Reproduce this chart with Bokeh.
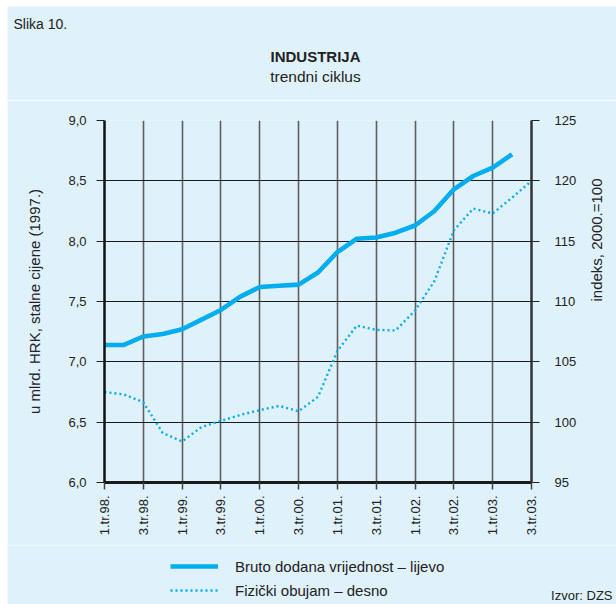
import math
from bokeh.plotting import figure
from bokeh.models import (Range1d, LinearAxis, FixedTicker, Legend, LegendItem, Label)
from bokeh.layouts import column
from bokeh.embed import file_html
from bokeh.resources import INLINE

# ---- data ----
tick_labels = ["1.tr.98.", "3.tr.98.", "1.tr.99.", "3.tr.99.", "1.tr.00.", "3.tr.00.",
               "1.tr.01.", "3.tr.01.", "1.tr.02.", "3.tr.02.", "1.tr.03.", "3.tr.03."]
bruto = [7.14, 7.14, 7.21, 7.23, 7.27, 7.35, 7.43, 7.54, 7.62, 7.63, 7.64, 7.74,
         7.91, 8.02, 8.03, 8.07, 8.13, 8.25, 8.43, 8.54, 8.61, 8.72]
fizicki = [102.5, 102.3, 101.65, 99.1, 98.4, 99.6, 100.1, 100.6, 101.0, 101.35, 100.9,
           102.1, 105.9, 108.0, 107.65, 107.6, 109.25, 111.7, 115.9, 117.7, 117.3,
           118.6, 120.0]
left_ticks = [6.0, 6.5, 7.0, 7.5, 8.0, 8.5, 9.0]
right_ticks = [95, 100, 105, 110, 115, 120, 125]
series_names = ["Bruto dodana vrijednost – lijevo", "Fizički obujam – desno"]

BG = "#dff1fb"
LINE = "#00adef"
FONT = "Liberation Sans"
TXT = "#222222"
W = 609
NAN = float("nan")

x_b = list(range(len(bruto)))
x_f = list(range(len(fizicki)))
x_ticks = [2 * i for i in range(len(tick_labels))]


def blank_fig(height):
    f = figure(width=W, height=height, output_backend="svg", toolbar_location=None,
               title=None, x_range=Range1d(0, 1), y_range=Range1d(0, 1),
               x_axis_type=None, y_axis_type=None,
               min_border_left=0, min_border_right=0, min_border_top=0,
               min_border_bottom=0)
    f.background_fill_color = BG
    f.border_fill_color = BG
    f.outline_line_color = None
    f.grid.visible = False
    return f


def lab(f, text, x, y, size, align="left", style="normal"):
    f.add_layout(Label(x=x, y=y, x_units="screen", y_units="screen", text=text,
                       text_font=FONT, text_font_size=size, text_align=align,
                       text_baseline="alphabetic", text_font_style=style,
                       text_color=TXT))


head = blank_fig(94)
foot = blank_fig(59)

# frame alignment between the stacked figures: switch it off if possible
ALIGN_OFF = hasattr(head, "frame_align")
if ALIGN_OFF:
    head.frame_align = False
    foot.frame_align = False
    DX = 7      # frame starts at the canvas' left edge (page x = 7)
else:
    DX = 104    # frame aligned with the chart frame (page x = 104)

# ---- header ----
lab(head, "Slika 10.", 13 - DX, 77, "14px")
lab(head, "INDUSTRIJA", 315 - DX, 44, "15px", align="center", style="bold")
lab(head, "trendni ciklus", 315 - DX, 24, "15.5px", align="center")

# ---- main chart ----
p = figure(width=W, height=445, output_backend="svg", toolbar_location=None,
           title=None, x_range=Range1d(0, 22), y_range=Range1d(6, 9),
           min_border_left=97, min_border_right=83, min_border_top=20,
           min_border_bottom=63)
if ALIGN_OFF:
    p.frame_align = False
p.extra_y_ranges = {"right": Range1d(95, 125)}
p.background_fill_color = BG
p.border_fill_color = BG
p.outline_line_color = None

p.xgrid.ticker = FixedTicker(ticks=x_ticks)
p.xgrid.grid_line_color = "#5e5e5e"
p.xgrid.grid_line_width = 1.6
p.ygrid.ticker = FixedTicker(ticks=left_ticks)
p.ygrid.grid_line_color = "#1a1a1a"
p.ygrid.grid_line_width = 1.2

xa = p.xaxis[0]
xa.ticker = FixedTicker(ticks=x_ticks)
xa.major_label_overrides = {t: l for t, l in zip(x_ticks, tick_labels)}
xa.major_label_orientation = math.pi / 2
xa.axis_line_width = 3
xa.axis_line_color = "#1a1a1a"
xa.major_tick_in = 0
xa.major_tick_out = 7
xa.major_tick_line_color = "#444444"
xa.major_tick_line_width = 1.5
xa.minor_tick_line_color = None
xa.major_label_standoff = 6
xa.major_label_text_font = FONT
xa.major_label_text_font_size = "13px"
xa.major_label_text_color = TXT

ya = p.yaxis[0]
ya.ticker = FixedTicker(ticks=left_ticks)
ya.major_label_overrides = {t: f"{t:.1f}".replace(".", ",") for t in left_ticks}
ya.axis_line_width = 2.5
ya.axis_line_color = "#111111"
ya.major_tick_in = 0
ya.major_tick_out = 8
ya.major_tick_line_color = "#222222"
ya.major_tick_line_width = 1.2
ya.minor_tick_line_color = None
ya.major_label_standoff = 10
ya.major_label_text_font = FONT
ya.major_label_text_font_size = "13px"
ya.major_label_text_color = TXT
ya.axis_label = "u mlrd. HRK, stalne cijene (1997.)"
ya.axis_label_standoff = 22
ya.axis_label_text_font = FONT
ya.axis_label_text_font_size = "15px"
ya.axis_label_text_font_style = "normal"
ya.axis_label_text_color = TXT

ra = LinearAxis(y_range_name="right", ticker=FixedTicker(ticks=right_ticks))
ra.axis_line_width = 2.5
ra.axis_line_color = "#333333"
ra.major_tick_in = 0
ra.major_tick_out = 8
ra.major_tick_line_color = "#222222"
ra.major_tick_line_width = 1.2
ra.minor_tick_line_color = None
ra.major_label_standoff = 15
ra.major_label_text_font = FONT
ra.major_label_text_font_size = "13px"
ra.major_label_text_color = TXT
ra.axis_label = "indeks, 2000.=100"
ra.axis_label_standoff = 17
ra.axis_label_text_font = FONT
ra.axis_label_text_font_size = "15px"
ra.axis_label_text_font_style = "normal"
ra.axis_label_text_color = TXT
if hasattr(ra, "axis_label_orientation"):
    ra.axis_label_orientation = math.pi / 2
p.add_layout(ra, "right")

p.line(x_f, fizicki, y_range_name="right", line_color=LINE, line_width=2.4,
       line_dash="2 3")
p.line(x_b, bruto, line_color=LINE, line_width=4.6, line_join="round")

# ---- footer: legend + source ----
lr_b = foot.line([NAN], [NAN], line_color=LINE, line_width=4.6)
lr_f = foot.line([NAN], [NAN], line_color=LINE, line_width=2.4, line_dash="2 3")
legend = Legend(items=[LegendItem(label=series_names[0], renderers=[lr_b]),
                       LegendItem(label=series_names[1], renderers=[lr_f])],
                location=(170 - DX, 2), orientation="vertical",
                glyph_width=48, glyph_height=24, label_height=24, label_standoff=17,
                spacing=0, padding=0, margin=0,
                label_text_font=FONT, label_text_font_size="15px",
                label_text_color=TXT,
                border_line_color=None, background_fill_alpha=0)
foot.add_layout(legend, "center")
lab(foot, "Izvor: DZS", 612 - DX, 9, "13px", align="right")

page = column(head, p, foot, spacing=0, margin=(6, 0, 0, 7))
open("out.html", "w").write(file_html(page, INLINE))
